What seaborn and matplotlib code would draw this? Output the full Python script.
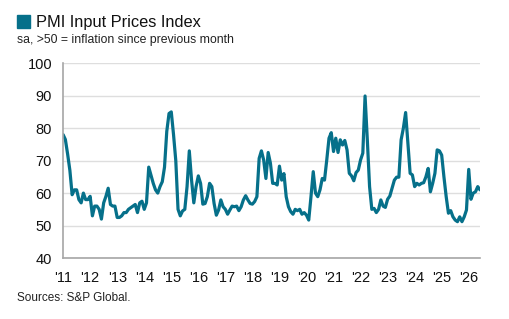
import numpy as np
import pandas as pd
import matplotlib
matplotlib.use("Agg")
import matplotlib.pyplot as plt
import seaborn as sns

# monthly PMI input prices, Jan 2011 onwards
start_year = 2011
values = [
    78, 76.5, 72, 67, 59.5, 61, 61, 58, 57, 60, 58, 58,          # 2011
    59, 53, 56, 56, 55, 52, 57, 59, 61.5, 56.5, 56, 56,          # 2012
    52.5, 52.5, 53, 54, 54, 55, 55.5, 56, 56.5, 54, 57, 57.5,    # 2013
    55, 57, 68, 65.5, 63, 61, 60, 62, 63.5, 68, 79, 84.5,        # 2014
    85, 78, 70, 55, 53, 54.5, 55, 62, 73, 64, 57, 62,            # 2015
    65.3, 63, 56.6, 56.8, 58.9, 63, 62, 56.8, 53.2, 54.8, 57.9, 55.8,  # 2016
    55, 53.5, 54.8, 56, 55.8, 56, 54.6, 55.8, 57.9, 59.2, 57.9, 56.8,  # 2017
    56.6, 57.4, 58.9, 70.7, 73, 70.2, 64.5, 72.5, 69.2, 63, 63, 62.5,  # 2018
    68.3, 64, 66, 58.9, 55.8, 54.3, 53.5, 55, 54.6, 55, 53.5, 54,      # 2019
    53.2, 51.7, 58.9, 66.6, 60, 58.9, 61, 64.5, 64, 70.2, 76.9, 78.6,  # 2020
    72.8, 76.9, 72.5, 76.4, 74.8, 76.2, 73.3, 66.1, 65.3, 63.8, 66.3, 67.1,  # 2021
    70.2, 72.3, 89.9, 76.4, 62, 55, 55.3, 54, 55, 57.9, 56, 55.6,      # 2022
    58.1, 59.1, 61.5, 64, 64.9, 64.9, 76.4, 80, 84.8, 75.3, 66.1, 65.6,  # 2023
    62, 63, 62.5, 63, 63.2, 65, 67.6, 60.4, 63, 66.1, 73.3, 73,        # 2024
    71.7, 65, 58.9, 53.8, 54.6, 52.7, 51.7, 51.2, 52.7, 51.2, 52.7, 54.8,  # 2025
    67.3, 58.1, 60, 60.4, 62, 61,                                       # 2026
]
year_ticks = list(range(2011, 2027))
year_labels = ["'" + str(y)[2:] for y in year_ticks]
y_ticks = [40, 50, 60, 70, 80, 90, 100]

df = pd.DataFrame({"t": start_year + np.arange(len(values)) / 12, "pmi": values})

line_color = "#06708a"
grid_color = "#dedede"
axis_color = "#a6a6a6"

sns.set_theme(style="white")
plt.rcParams["font.family"] = ["Liberation Sans", "DejaVu Sans"]

fig = plt.figure(figsize=(5.09, 3.19), dpi=100)
ax = fig.add_axes([0.124, 0.191, 0.819, 0.611])

sns.lineplot(data=df, x="t", y="pmi", ax=ax, color=line_color, linewidth=2.3)

ax.set_xlim(df["t"].iloc[0], df["t"].iloc[-1])
ax.set_ylim(40, 100)
ax.set_xticks(year_ticks)
ax.set_xticklabels(year_labels, fontsize=10.5, color="#111111")
ax.set_yticks(y_ticks)
ax.set_yticklabels([str(v) for v in y_ticks], fontsize=10.5, color="#111111")
ax.set_xlabel("")
ax.set_ylabel("")

ax.yaxis.grid(True, color=grid_color, linewidth=1)
ax.xaxis.grid(False)
for s in ["top", "right"]:
    ax.spines[s].set_visible(False)
for s in ["left", "bottom"]:
    ax.spines[s].set_color(axis_color)
    ax.spines[s].set_linewidth(1.2)
ax.tick_params(axis="both", which="major", length=4, width=1, color=axis_color,
               direction="out", pad=4)
ax.tick_params(axis="x", pad=5)

# header
fig.patches.append(plt.Rectangle((17 / 509, 1 - 28 / 319), 13 / 509, 13 / 319,
                                 transform=fig.transFigure, color=line_color))
fig.text(36 / 509, 1 - 22 / 319, "PMI Input Prices Index", fontsize=11.8,
         va="center", ha="left", color="#111111")
fig.text(17 / 509, 1 - 40 / 319, "sa, >50 = inflation since previous month",
         fontsize=8.8, va="center", ha="left", color="#222222")
fig.text(17 / 509, 1 - 298 / 319, "Sources: S&P Global.", fontsize=8.5,
         va="center", ha="left", color="#222222")

fig.savefig("out.png", dpi=100)
